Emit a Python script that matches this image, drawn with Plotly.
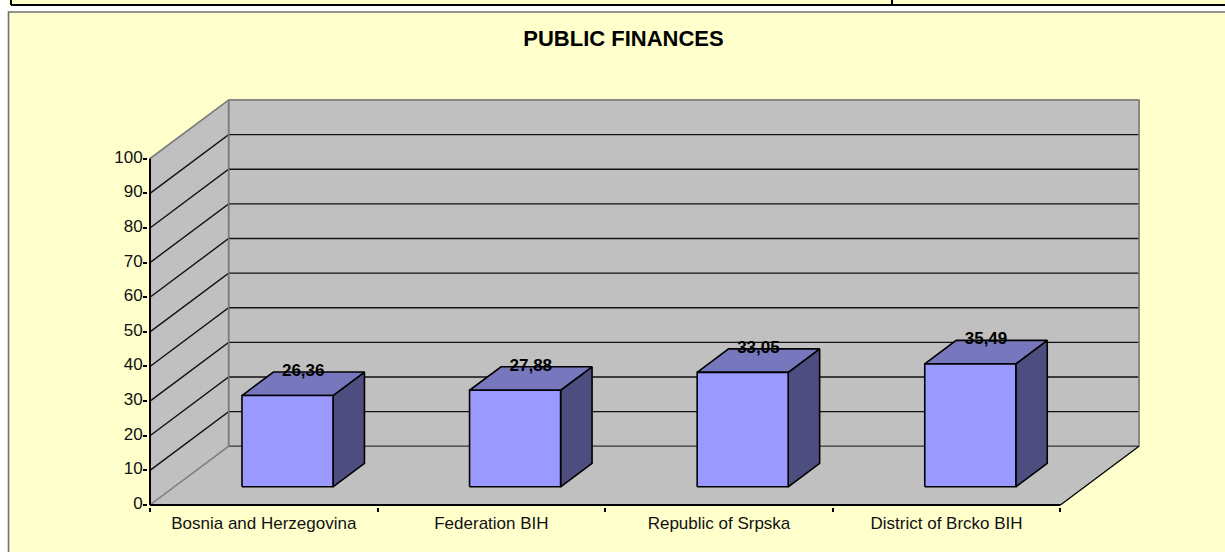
import plotly.graph_objects as go

categories = ["Bosnia and Herzegovina", "Federation BIH", "Republic of Srpska", "District of Brcko BIH"]
values = [26.36, 27.88, 33.05, 35.49]
y_ticks = [0, 10, 20, 30, 40, 50, 60, 70, 80, 90, 100]
title_text = "PUBLIC FINANCES"

W, H = 1225, 552
PAD = 2                     # room so edge lines are not clipped by the plot area
ML, MR, MT, MB = 150 - PAD, 86 - PAD, 100 - PAD, 47 - PAD
DX, DY = 0.3454, 16.95      # oblique depth in axis units
FONT = "Liberation Sans, Arial, sans-serif"
WALL = "#C0C0C0"
YEL = "#FFFFCC"

n = len(categories)
top = y_ticks[-1]
X_UNIT = (W - 150 - 86) / (n + DX)
Y_UNIT = (H - 100 - 47) / (top + DY)

def px(x):
    return (x - ML) / (W - ML - MR)

def py(y):
    return 1 - (y - MT) / (H - MT - MB)

fig = go.Figure()

def poly(xs, ys, fill, line, width=1.0):
    fig.add_trace(go.Scatter(x=xs, y=ys, mode="lines", fill="toself", fillcolor=fill,
                             line=dict(color=line, width=width), hoverinfo="skip",
                             showlegend=False, cliponaxis=False))

def path(xs, ys, color, width=1.3):
    fig.add_trace(go.Scatter(x=xs, y=ys, mode="lines", line=dict(color=color, width=width),
                             hoverinfo="skip", showlegend=False, cliponaxis=False))

# back wall, side wall, floor
poly([DX, n + DX, n + DX, DX, DX], [DY, DY, top + DY, top + DY, DY], WALL, "#808080", 1.5)
poly([0, DX, DX, 0, 0], [0, DY, top + DY, top, 0], WALL, "#808080", 1.5)
poly([0, n, n + DX, DX, 0], [0, 0, DY, DY, 0], WALL, WALL, 0.5)

# gridlines
for t in y_ticks:
    if t == 0:
        path([DX, n + DX], [DY, DY], "#555555", 1.5)
        path([0, DX], [0, DY], "#808080", 1.5)
    elif t == top:
        path([DX, n + DX], [t + DY, t + DY], "#808080", 1.5)
        path([0, DX], [t, t + DY], "#808080", 1.5)
    else:
        path([0, DX, n + DX], [t, t + DY, t + DY], "#111111", 1.4)

# re-draw wall verticals
path([DX, DX], [DY, top + DY], "#808080", 1.5)
path([n + DX, n + DX], [DY, top + DY], "#808080", 1.5)
# axes and floor edge
path([n, n + DX], [0, DY], "#000000", 1.3)
path([0, 0], [0, top], "#000000", 2)
path([0, n], [0, 0], "#000000", 2)

# bars
D0, BD, BW, GAP = 0.31, 0.40, 0.40, 0.297
lx, ly = [], []
for i, v in enumerate(values):
    x0 = i + GAP + D0 * DX
    x1 = x0 + BW
    y0 = D0 * DY
    y1 = y0 + v
    ddx, ddy = BD * DX, BD * DY
    poly([x1, x1 + ddx, x1 + ddx, x1, x1], [y0, y0 + ddy, y1 + ddy, y1, y0], "#4D4D80", "#000000", 1.6)
    poly([x0, x1, x1 + ddx, x0 + ddx, x0], [y1, y1, y1 + ddy, y1 + ddy, y1], "#7777BE", "#000000", 1.6)
    poly([x0, x1, x1, x0, x0], [y0, y0, y1, y1, y0], "#9999FF", "#000000", 1.6)
    lx.append((x0 + x1) / 2 + ddx / 2)
    ly.append(y1 + ddy / 2 + 1.0)

fig.add_trace(go.Scatter(x=lx, y=ly, mode="text", text=[f"{v:.2f}".replace(".", ",") for v in values],
                         textposition="top center", hoverinfo="skip", showlegend=False, cliponaxis=False,
                         textfont=dict(family=FONT, size=17, color="#000000", weight="bold")))

fig.update_layout(
    width=W, height=H, autosize=False,
    margin=dict(l=ML, r=MR, t=MT, b=MB, pad=0),
    paper_bgcolor=YEL, plot_bgcolor="rgba(0,0,0,0)",
    showlegend=False,
    title=dict(text=f"<b>{title_text}</b>", x=623.5 / W, xanchor="center", y=1 - 38 / H, yanchor="middle",
               font=dict(family=FONT, size=22, color="#000000")),
    xaxis=dict(range=[-PAD / X_UNIT, n + DX + PAD / X_UNIT], tickmode="array",
               tickvals=[i + 0.5 for i in range(n)], ticktext=categories,
               ticks="", showgrid=False, zeroline=False, showline=False, ticklabelstandoff=4,
               tickfont=dict(family=FONT, size=17, color="#111111"),
               minor=dict(tickmode="array", tickvals=list(range(n + 1)), ticks="outside", ticklen=4,
                          tickcolor="#000000", tickwidth=1.5, showgrid=False)),
    yaxis=dict(range=[-PAD / Y_UNIT, top + DY + PAD / Y_UNIT], tickmode="array", tickvals=y_ticks,
               ticks="outside", ticklen=4, tickcolor="#000000", tickwidth=1.5, showgrid=False,
               zeroline=False, showline=False, ticklabelstandoff=-3, ticklabelshift=-2,
               tickfont=dict(family=FONT, size=17, color="#111111")),
    shapes=[
        # white band and left margin, with the frame of the chart
        dict(type="rect", xref="paper", yref="paper", x0=px(0), x1=px(W), y0=py(6), y1=py(11.5),
             fillcolor="#FFFFFF", line_width=0, layer="below"),
        dict(type="rect", xref="paper", yref="paper", x0=px(0), x1=px(8.5), y0=py(0), y1=py(H),
             fillcolor="#FFFFFF", line_width=0, layer="below"),
        dict(type="rect", xref="paper", yref="paper", x0=px(8.5), x1=px(W + 5), y0=py(12), y1=py(H + 5),
             fillcolor="rgba(0,0,0,0)", line=dict(color="#707070", width=1.6), layer="below"),
        dict(type="line", xref="paper", yref="paper", x0=px(11), x1=px(W), y0=py(5), y1=py(5),
             line=dict(color="#000000", width=2), layer="below"),
        dict(type="line", xref="paper", yref="paper", x0=px(11), x1=px(11), y0=py(0), y1=py(5),
             line=dict(color="#000000", width=2), layer="below"),
        dict(type="line", xref="paper", yref="paper", x0=px(892), x1=px(892), y0=py(0), y1=py(5),
             line=dict(color="#000000", width=2), layer="below"),
    ],
)

fig.write_html("out.html", config=dict(displayModeBar=False),
               post_script="document.body.style.margin='0';document.body.style.overflow='hidden';")
